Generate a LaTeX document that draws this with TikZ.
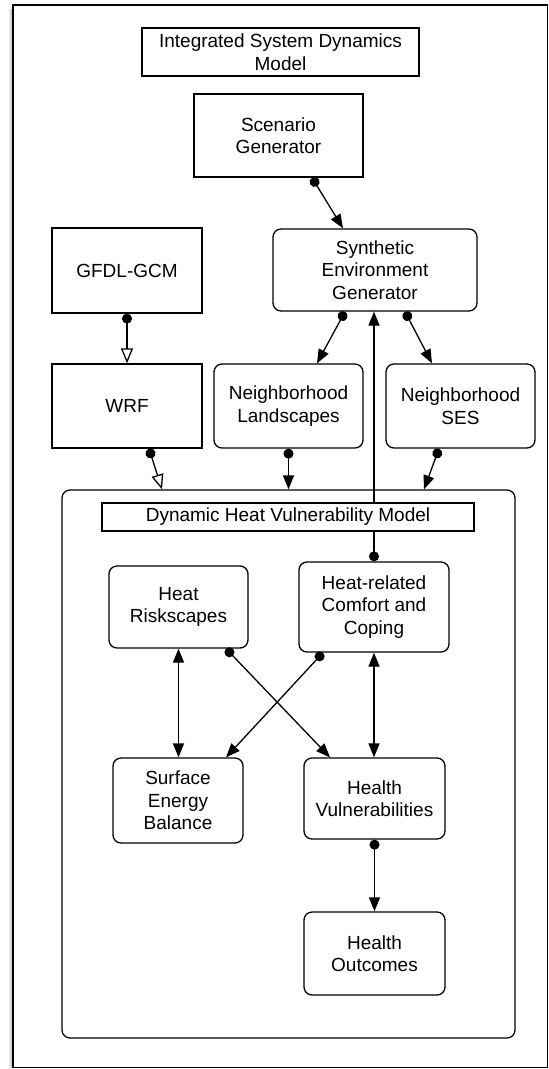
\documentclass[tikz,border=0pt]{standalone}
\usepackage{fontspec}
\setmainfont{Liberation Sans}
\usetikzlibrary{arrows.meta}
\tikzset{
    line/.style={
        line width=1.3pt
    },
    block/.style={
        line, draw, fill=white, align=center, inner sep=0pt,
        font=\fontsize{19}{22.5}\selectfont
    },
    rblock/.style={
        block, rounded corners=8pt
    },
    flow/.style={
        line,
        {Circle[length=10pt]}-{Triangle[length=14pt, width=11pt]}
    },
    feed/.style={
        line,
        {Circle[length=10pt]}-{Triangle[open, length=15pt, width=12pt]}
    },
    both/.style={
        line,
        {Triangle[length=14pt, width=11pt]}-{Triangle[length=14pt, width=11pt]}
    }
}
\newcommand{\blockat}[6]{
    \node [#1, minimum width=#4, minimum height=#5] (#2) at (#3) {#6};
}

\begin{document}
\begin{tikzpicture}[x=1pt, y=-1pt]
    \useasboundingbox (0, 0) rectangle (549, 1069);
    \foreach \i/\c in {1/8, 2/14, 3/22, 4/30} {
        \draw [black!\c, line width=1pt] (13 - 5 + \i, 9) -- (13 - 5 + \i, 1068);
    }
    \draw [line] (13, 5) rectangle (547.5, 1067.5);

    \blockat{block}{title}{280.5, 52}{277}{48}{Integrated System Dynamics\\Model}
    \blockat{block}{scen}{278.5, 135.5}{169}{83}{Scenario\\Generator}
    \blockat{block}{gfdl}{127, 270.5}{150}{85}{GFDL-GCM}
    \blockat{rblock}{synth}{375, 270}{204}{82}{Synthetic\\Environment\\Generator}
    \blockat{block}{wrf}{127, 406}{150}{84}{WRF}
    \blockat{rblock}{land}{288.5, 406}{149}{84}{Neighborhood\\Landscapes}
    \blockat{rblock}{ses}{460.5, 406}{149}{84}{Neighborhood\\SES}

    \blockat{rblock}{dhvm}{288.5, 764}{453}{548}{}
    \blockat{rblock}{risk}{178.5, 607}{139}{82}{Heat\\Riskscapes}
    \blockat{rblock}{comf}{374, 607}{150}{90}{Heat-related\\Comfort and\\Coping}
    \blockat{rblock}{seb}{178, 800.5}{130}{85}{Surface\\Energy\\Balance}
    \blockat{rblock}{hvul}{374.5, 798.5}{141}{81}{Health\\Vulnerabilities}
    \blockat{rblock}{hout}{374.5, 953.5}{141}{83}{Health\\Outcomes}

    \draw [flow] ([xshift=33.5]scen.south) -- ([xshift=-32]synth.north);
    \draw [feed] (gfdl.south) -- (wrf.north);
    \draw [flow] ([xshift=-30]synth.south) -- ([xshift=28.5]land.north);
    \draw [flow] ([xshift=30]synth.south) -- ([xshift=-28.5]ses.north);
    \draw [flow] (comf.north) -- (comf.north |- synth.south);
    \draw [feed] ([xshift=22]wrf.south) -- ([xshift=-126.5]dhvm.north);
    \draw [flow] (land.south) -- (land.south |- dhvm.north);
    \draw [flow] ([xshift=-21.5]ses.south) -- ([xshift=135.5]dhvm.north);

    \draw [both] (risk.south) -- (risk.south |- seb.north);
    \draw [both] (comf.south) -- (comf.south |- hvul.north);
    \draw [flow] ([xshift=47.5]risk.south) -- ([xshift=-44.5]hvul.north);
    \draw [flow] ([xshift=-51]comf.south) -- ([xshift=48]seb.north);
    \draw [flow] (hvul.south) -- (hout.north);

    \blockat{block}{label}{288, 517}{372}{28}{Dynamic Heat Vulnerability Model}
\end{tikzpicture}
\end{document}
